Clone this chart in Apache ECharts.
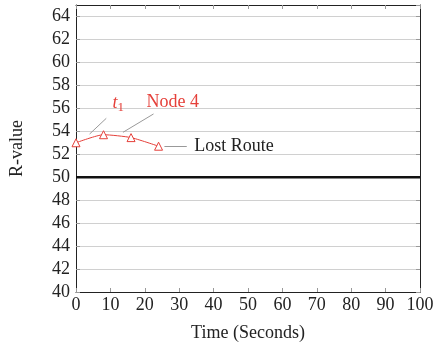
<!DOCTYPE html>
<html><head><meta charset="utf-8">
<script src="https://cdn.jsdelivr.net/npm/echarts@6/dist/echarts.min.js"></script>
<style>html,body{margin:0;padding:0;background:#fff}#c{width:433px;height:345px}</style>
</head><body><div id="c"></div>
<script>
var timeX = [0, 8, 16, 24];
var rValues = [53.0, 53.7, 53.45, 52.7];
var lostRouteLevel = [50, 50];
var lostRouteX = [0, 100];
var xTicks = [0, 10, 20, 30, 40, 50, 60, 70, 80, 90, 100];
var yTicks = [40, 42, 44, 46, 48, 50, 52, 54, 56, 58, 60, 62, 64];
var xLabel = 'Time (Seconds)';
var yLabel = 'R-value';
var annoT1 = { text: 't1', pin: [[3.95, 53.76], [8.8, 55.13]], at: [12.3, 56.4] };
var annoNode = { text: 'Node 4', pin: [[13.65, 53.91], [22.54, 55.51]], at: [28.1, 56.55] };
var annoLost = { text: 'Lost Route', pin: [[25.7, 52.68], [32.2, 52.68]], at: [34.4, 52.68] };

var FONT = 'Liberation Serif';
var FS = 18;
var RED = '#e5403a';
var chart = echarts.init(document.getElementById('c'), null, {renderer: 'canvas'});

function xAxisDef(bottom) {
  return {
    type: 'value', min: 0, max: 100, interval: 10,
    position: bottom ? 'bottom' : 'top',
    name: bottom ? xLabel : '', nameLocation: 'middle', nameGap: 32,
    nameTextStyle: {fontFamily: FONT, fontSize: FS, color: '#222'},
    axisLine: {show: true, onZero: false, lineStyle: {color: '#222', width: 1}},
    axisTick: {show: true, inside: true, length: 4, lineStyle: {color: '#999'}},
    axisLabel: {show: bottom, fontFamily: FONT, fontSize: FS, color: '#222', margin: 4},
    splitLine: {show: false}
  };
}
function yAxisDef(left) {
  return {
    type: 'value', min: 40, max: 65, interval: 2,
    position: left ? 'left' : 'right',
    name: left ? yLabel : '', nameLocation: 'middle', nameGap: 50, nameRotate: 90,
    nameTextStyle: {fontFamily: FONT, fontSize: FS, color: '#222'},
    axisLine: {show: true, onZero: false, lineStyle: {color: '#222', width: 1}},
    axisTick: {show: true, inside: true, length: 4, lineStyle: {color: '#999'}},
    axisLabel: {show: left, fontFamily: FONT, fontSize: FS, color: '#222', margin: 6,
      showMaxLabel: false,
      formatter: function (v) { return yTicks.indexOf(v) >= 0 ? String(v) : ''; }},
    splitLine: {show: left, lineStyle: {color: '#d0d0d0', width: 1}}
  };
}

function pin(a) {
  return [{coord: a.pin[0]}, {coord: a.pin[1]}];
}

chart.setOption({
  animation: false,
  grid: {left: 76, right: 13, top: 5, bottom: 53, containLabel: false, outerBoundsMode: 'none'},
  xAxis: [xAxisDef(true), xAxisDef(false)],
  yAxis: [yAxisDef(true), yAxisDef(false)],
  series: [
    {
      type: 'line', xAxisIndex: 0, yAxisIndex: 0,
      data: lostRouteX.map(function (x, i) { return [x, lostRouteLevel[i]]; }),
      symbol: 'none', lineStyle: {color: '#111', width: 2.5}, z: 3
    },
    {
      type: 'line', xAxisIndex: 0, yAxisIndex: 0,
      data: timeX.map(function (x, i) { return [x, rValues[i]]; }),
      smooth: 0.2,
      symbol: 'triangle', symbolSize: 8,
      itemStyle: {color: '#fff', borderColor: RED, borderWidth: 1},
      lineStyle: {color: RED, width: 1},
      z: 5,
      markLine: {
        silent: true, symbol: ['none', 'none'],
        lineStyle: {color: '#999', width: 1, type: 'solid'},
        label: {show: false},
        data: [pin(annoT1), pin(annoNode), pin(annoLost)]
      },
      markPoint: {
        silent: true,
        symbol: 'circle', symbolSize: 0,
        data: [
          {coord: annoT1.at, label: {show: true, position: 'inside',
            formatter: '{t|t}{s|1}',
            rich: {t: {fontFamily: FONT, fontStyle: 'italic', fontSize: FS, color: RED},
                   s: {fontFamily: FONT, fontSize: 13, color: RED, padding: [8, 0, 0, 0]}}}},
          {coord: annoNode.at, label: {show: true, position: 'inside', formatter: annoNode.text,
            fontFamily: FONT, fontSize: FS, color: RED}},
          {coord: annoLost.at, label: {show: true, position: 'right', distance: 0, formatter: annoLost.text,
            fontFamily: FONT, fontSize: FS, color: '#222'}}
        ]
      }
    }
  ]
});
</script></body></html>
